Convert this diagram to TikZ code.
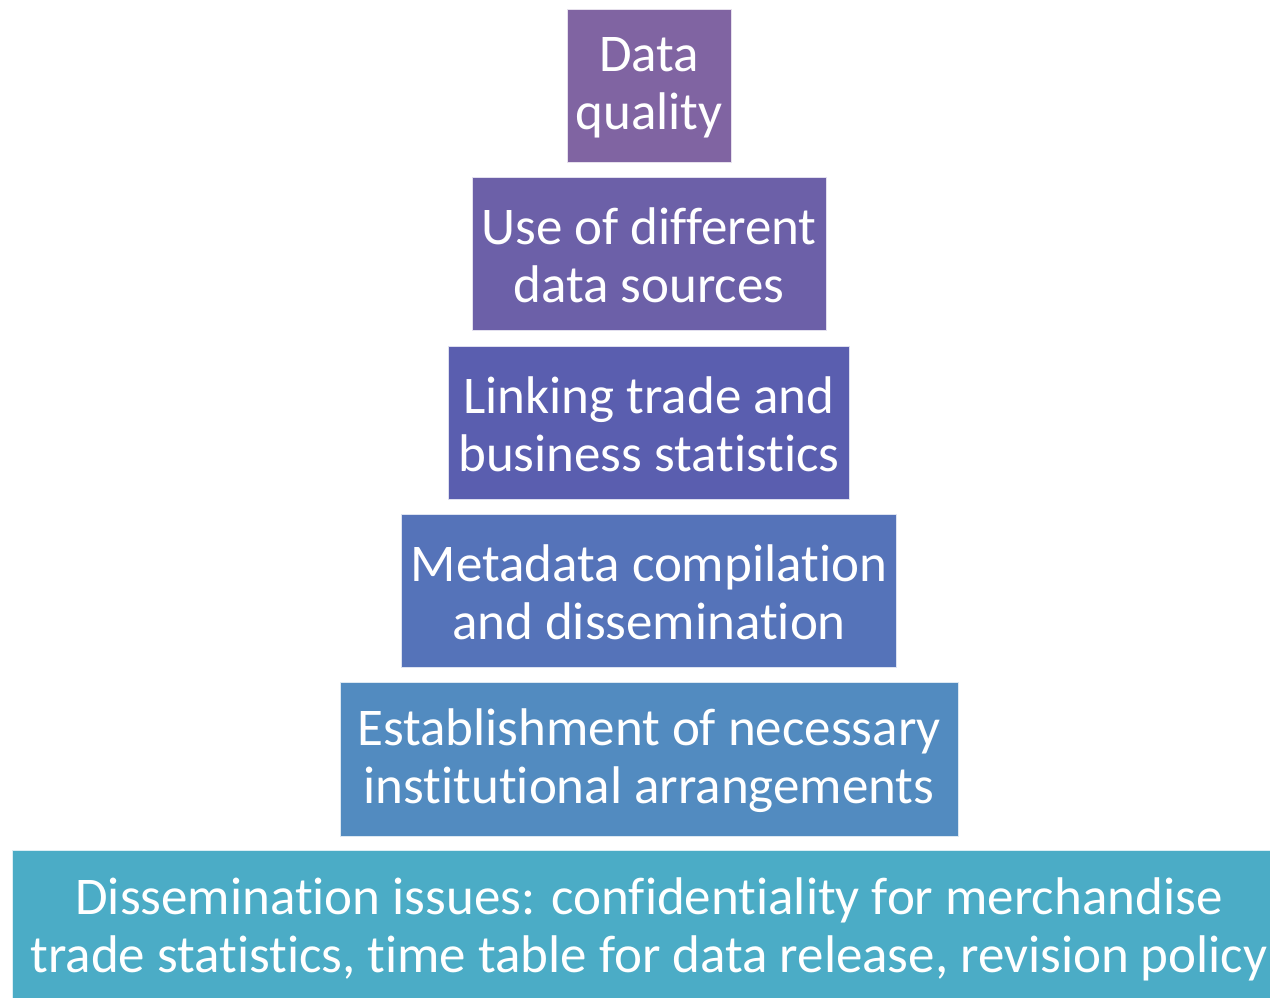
\documentclass[tikz,border=0pt]{standalone}
\usepackage{fontspec}
\setmainfont{Carlito}[Ligatures=NoCommon]
\begin{document}
\begin{tikzpicture}[x=1pt,y=-1pt,
  tier/.style={text=white, align=center,
    font=\fontsize{53}{58}\selectfont, inner sep=0pt}]
\useasboundingbox (0,0) rectangle (1270,998);
\definecolor{c1}{HTML}{8064A2}
\definecolor{c2}{HTML}{6C60A8}
\definecolor{c3}{HTML}{5A5EAF}
\definecolor{c4}{HTML}{5573B9}
\definecolor{c5}{HTML}{528BC0}
\definecolor{c6}{HTML}{4BACC6}
\begin{scope}
\clip (0,0) rectangle (1270,998);
\filldraw[draw=white!80!c1, fill=c1] (567,9) rectangle (731,162);
\filldraw[draw=white!80!c2, fill=c2] (472,177) rectangle (826,330);
\filldraw[draw=white!80!c3, fill=c3] (448,346) rectangle (849,499);
\filldraw[draw=white!80!c4, fill=c4] (401,514) rectangle (896,667);
\filldraw[draw=white!80!c5, fill=c5] (340,682) rectangle (958,836);
\filldraw[draw=white!80!c6, fill=c6] (12,850) rectangle (1290,1010);
\end{scope}
\node[tier] (t1) at (649,87.5) {Data\\quality};
\node[tier] (t2) at (649,255.5) {Use of different\\data sources};
\node[tier] (t3) at (649,424.5) {Linking trade and\\business statistics};
\node[tier] (t4) at (649,592.5) {Metadata compilation\\and dissemination};
\node[tier] (t5) at (649,761) {Establishment of necessary\\institutional arrangements};
\node[tier] (t6) at (649,929) {Dissemination issues: confidentiality for merchandise\\trade statistics, time table for data release, revision policy};
\end{tikzpicture}
\end{document}
